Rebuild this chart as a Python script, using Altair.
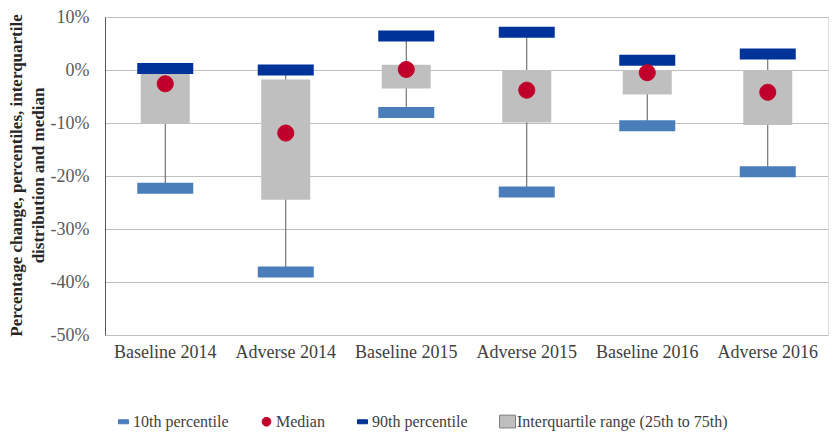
import altair as alt
import pandas as pd

categories = ["Baseline 2014", "Adverse 2014", "Baseline 2015", "Adverse 2015", "Baseline 2016", "Adverse 2016"]
p10 = [-22.3, -38.1, -8.0, -23.0, -10.5, -19.2]
q1 = [-10.2, -24.5, -3.5, -9.9, -4.6, -10.4]
median = [-2.6, -11.9, 0.1, -3.8, -0.5, -4.2]
q3 = [-0.5, -1.8, 1.0, 0.0, 0.0, 0.0]
p90 = [0.3, 0.0, 6.4, 7.1, 1.85, 3.0]

series_names = ["10th percentile", "Median", "90th percentile", "Interquartile range (25th to 75th)"]
series_fill = ["#4A7EBB", "#C0002A", "#003399", "#BFBFBF"]
series_stroke = ["#4A7EBB", "#C0002A", "#003399", "#7F7F7F"]
dash = "M-0.625,-0.25H0.625V0.25H-0.625Z"
circ = "M0.55,0A0.55,0.55,0,1,1,-0.55,0A0.55,0.55,0,1,1,0.55,0Z"
square = "M-1,-0.8H1V0.8H-1Z"
series_shapes = [dash, circ, dash, square]
y_ticks = [-50, -40, -30, -20, -10, 0, 10]

df = pd.DataFrame({
    "category": categories,
    "p10": p10,
    "q1": q1,
    "median": median,
    "q3": q3,
    "p90": p90,
    "series": ["Median"] * len(categories),
})

xenc = alt.X(
    "category:N",
    sort=categories,
    scale=alt.Scale(paddingInner=0, paddingOuter=0),
    axis=alt.Axis(title=None, labelAngle=0, labelFontSize=18, labelColor="#404040",
                  labelPadding=8, ticks=False, domain=False, grid=False,
                  labelFont="Liberation Serif"),
)

yscale = alt.Scale(domain=[-50, 10], nice=False, zero=False)
yaxis = alt.Axis(
    values=y_ticks,
    labelExpr="datum.value + '%'",
    labelFontSize=18,
    labelColor="#595959",
    labelFont="Liberation Serif",
    labelPadding=16,
    ticks=False,
    domainColor="#595959",
    gridColor="#BFBFBF",
    title=["Percentage change, percentiles, interquartile", "distribution and median"],
    titleFont="Liberation Serif",
    titleFontSize=17,
    titleFontWeight="bold",
    titleColor="#262626",
    titleLineHeight=22,
    titleAngle=270,
    titleBaseline="top",
    titleAlign="center",
    titleX=-97,
    titleY=158,
)

def yq(field):
    return alt.Y(f"{field}:Q", scale=yscale, axis=yaxis)

def legend():
    return alt.Legend(
        title=None,
        orient="none",
        legendX=10,
        legendY=396,
        direction="horizontal",
        symbolSize=256,
        symbolStrokeWidth=1,
        labelFontSize=16,
        labelFont="Liberation Serif",
        labelColor="#404040",
        columnPadding=29,
        labelOffset=1,
        padding=0,
        labelLimit=400,
    )

base = alt.Chart(df).encode(x=xenc)

whisker = base.mark_rule(color="#595959", strokeWidth=1).encode(
    y=yq("p10"), y2="p90"
)
box = base.mark_bar(color="#BFBFBF", width=49).encode(
    y=yq("q1"), y2="q3"
)
cap10 = base.mark_tick(color="#4A7EBB", thickness=11, size=56, opacity=1).encode(y=yq("p10"))
cap90 = base.mark_tick(color="#003399", thickness=11, size=56, opacity=1).encode(y=yq("p90"))

med = base.mark_point(filled=True, opacity=1, size=846, strokeWidth=1).encode(
    y=yq("median"),
    color=alt.Color("series:N", scale=alt.Scale(domain=series_names, range=series_fill),
                    legend=legend()),
    shape=alt.Shape("series:N", scale=alt.Scale(domain=series_names, range=series_shapes),
                    legend=legend()),
    stroke=alt.Stroke("series:N", scale=alt.Scale(domain=series_names, range=series_stroke),
                      legend=legend()),
)

chart = alt.layer(whisker, box, cap10, cap90, med).properties(
    width=723,
    height=318,
    autosize=alt.AutoSizeParams(type="none"),
    padding={"left": 97, "top": 9, "right": 2, "bottom": 100},
).configure_view(
    stroke="#BFBFBF"
).configure(font="Liberation Serif")

chart.save("out.html", embed_options={"renderer": "svg", "actions": False})
